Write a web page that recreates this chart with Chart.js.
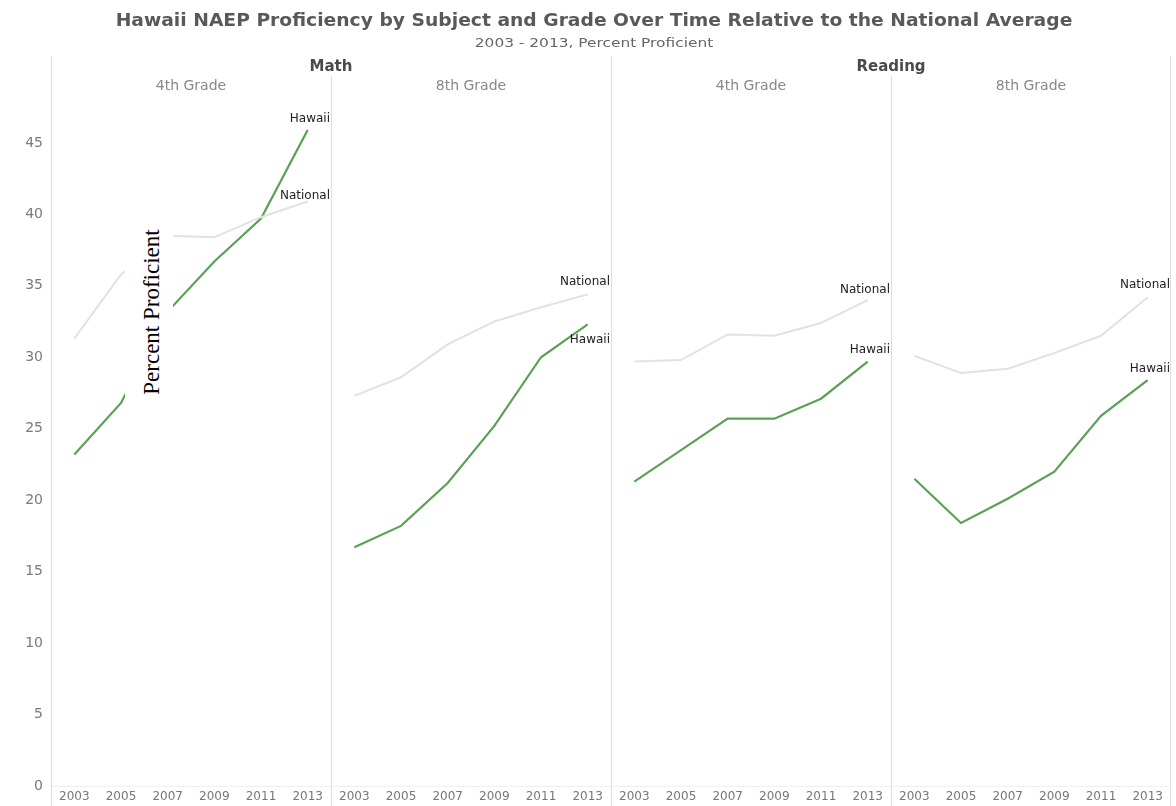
<!doctype html>
<html>
<head>
<meta charset="utf-8">
<title>Hawaii NAEP Proficiency</title>
<script src="https://cdn.jsdelivr.net/npm/chart.js"></script>
<style>
  body { margin: 0; background: #fff; }
  #wrap { position: relative; width: 1176px; height: 806px; overflow: hidden; font-family: "DejaVu Sans", sans-serif; }
  .panel { position: absolute; top: 0; height: 806px; }
  .txt { position: absolute; white-space: nowrap; transform: translate(-50%, -50%); }
  #title { left: 594px; top: 20px; font-size: 17px; font-weight: 700; color: #595959; }
  #subtitle { left: 594px; top: 42px; font-size: 13px; color: #666; }
  .subject { top: 66px; font-size: 15px; font-weight: 700; color: #4a4a4a; }
  .grade { top: 85px; font-size: 14px; color: #888; }
  #ybox { position: absolute; left: 125px; top: 225px; width: 48px; height: 185px; background: #fff; }
  #ytitle { position: absolute; left: 152px; top: 312px; transform: translate(-50%, -50%) rotate(-90deg);
            font-family: "Liberation Serif", serif; font-size: 23px; color: #000; white-space: nowrap; }
</style>
</head>
<body>
<div id="wrap">
  <canvas class="panel" id="c0" style="left:0;width:331px"></canvas>
  <canvas class="panel" id="c1" style="left:331px;width:280px"></canvas>
  <canvas class="panel" id="c2" style="left:611px;width:280px"></canvas>
  <canvas class="panel" id="c3" style="left:891px;width:280px"></canvas>

  <div class="txt" id="title">Hawaii NAEP Proficiency by Subject and Grade Over Time Relative to the National Average</div>
  <div class="txt" id="subtitle">2003 - 2013, Percent Proficient</div>
  <div class="txt subject" id="s0" style="left:331px"></div>
  <div class="txt subject" id="s1" style="left:891px"></div>
  <div class="txt grade" id="g0" style="left:191px"></div>
  <div class="txt grade" id="g1" style="left:471px"></div>
  <div class="txt grade" id="g2" style="left:751px"></div>
  <div class="txt grade" id="g3" style="left:1031px"></div>

  <div id="ybox"></div>
  <div id="ytitle">Percent Proficient</div>
</div>

<script>
// chart values
const years = ['2003', '2005', '2007', '2009', '2011', '2013'];
const subjects = ['Math', 'Reading'];
const grades = ['4th Grade', '8th Grade', '4th Grade', '8th Grade'];
const yTicks = [0, 5, 10, 15, 20, 25, 30, 35, 40, 45];

const hawaiiMath4   = [23.2, 26.8, 33.2, 36.7, 39.7, 45.9];
const nationalMath4 = [31.3, 35.8, 38.5, 38.4, 39.8, 40.9];
const hawaiiMath8   = [16.7, 18.2, 21.2, 25.2, 30.0, 32.3];
const nationalMath8 = [27.3, 28.6, 30.9, 32.5, 33.5, 34.4];
const hawaiiRead4   = [21.3, 23.5, 25.7, 25.7, 27.1, 29.7];
const nationalRead4 = [29.7, 29.8, 31.6, 31.5, 32.4, 34.0];
const hawaiiRead8   = [21.5, 18.4, 20.1, 22.0, 25.9, 28.4];
const nationalRead8 = [30.1, 28.9, 29.2, 30.3, 31.5, 34.2];

document.getElementById('s0').textContent = subjects[0];
document.getElementById('s1').textContent = subjects[1];
grades.forEach((g, i) => { document.getElementById('g' + i).textContent = g; });

// stretch the two heading lines to the width they take in the picture
function fitWidth(id, target) {
  const el = document.getElementById(id);
  const k = target / el.offsetWidth;
  el.style.transform = 'translate(-50%, -50%) scaleX(' + k.toFixed(3) + ')';
}
fitWidth('title', 957);
fitWidth('subtitle', 238);

const GREEN = '#5aa155';
const GREY = '#e2e2e2';

// panel borders plus the "Hawaii" / "National" end labels
const panelDecor = {
  id: 'panelDecor',
  afterDatasetsDraw(chart, args, opts) {
    const ctx = chart.ctx;
    const a = chart.chartArea;
    ctx.save();
    ctx.strokeStyle = '#dedede';
    ctx.lineWidth = 1;
    ctx.beginPath();
    ctx.moveTo(Math.round(a.left) + 0.5, opts.leftTop);
    ctx.lineTo(Math.round(a.left) + 0.5, chart.height);
    if (opts.rightTop) {
      ctx.moveTo(Math.round(a.right) - 0.5, opts.rightTop);
      ctx.lineTo(Math.round(a.right) - 0.5, chart.height);
    }
    ctx.stroke();

    ctx.font = '12px "DejaVu Sans", sans-serif';
    ctx.fillStyle = '#222';
    ctx.textAlign = 'right';
    ctx.textBaseline = 'middle';
    chart.data.datasets.forEach((ds, i) => {
      const last = ds.data[ds.data.length - 1];
      const y = chart.scales.y.getPixelForValue(last) + opts.offsets[i];
      ctx.fillText(ds.label, a.right - 1, y);
    });
    ctx.restore();
  }
};

function makePanel(id, hawaii, national, first, leftTop, rightTop, offsets) {
  new Chart(document.getElementById(id), {
    type: 'line',
    data: {
      labels: years,
      datasets: [
        { label: 'National', data: national, borderColor: GREY, borderWidth: 2, pointRadius: 0, tension: 0 },
        { label: 'Hawaii', data: hawaii, borderColor: GREEN, borderWidth: 2.2, pointRadius: 0, tension: 0 }
      ]
    },
    options: {
      responsive: false,
      animation: false,
      events: [],
      layout: { padding: { top: 100, left: 0, right: 0, bottom: 0 } },
      plugins: {
        legend: { display: false },
        tooltip: { enabled: false },
        panelDecor: { leftTop: leftTop, rightTop: rightTop, offsets: offsets }
      },
      scales: {
        x: {
          type: 'category',
          offset: true,
          grid: { display: false, drawTicks: false },
          border: { display: true, color: '#f0f0f0' },
          ticks: { color: '#777', font: { family: 'DejaVu Sans', size: 12 }, padding: 4, maxRotation: 0, autoSkip: false },
          afterFit(s) { s.height = 20; }
        },
        y: {
          display: first,
          min: 0,
          max: 48,
          afterBuildTicks(s) { s.ticks = yTicks.map(v => ({ value: v })); },
          grid: { display: false, drawTicks: false },
          border: { display: false },
          ticks: { color: '#7a7a7a', font: { family: 'DejaVu Sans', size: 14 }, padding: 8 },
          afterFit(s) { s.width = first ? 51 : 0; }
        }
      }
    },
    plugins: [panelDecor]
  });
}

[['c0', 331], ['c1', 280], ['c2', 280], ['c3', 280]].forEach(([id, w]) => {
  const c = document.getElementById(id);
  c.width = w;
  c.height = 806;
});

// national label first, then hawaii label (pixel nudges from the value)
makePanel('c0', hawaiiMath4, nationalMath4, true, 56, 0, [-6, -11]);
makePanel('c1', hawaiiMath8, nationalMath8, false, 76, 0, [-12, 15]);
makePanel('c2', hawaiiRead4, nationalRead4, false, 56, 0, [-10, -12]);
makePanel('c3', hawaiiRead8, nationalRead8, false, 76, 56, [-12, -11]);
</script>
</body>
</html>
